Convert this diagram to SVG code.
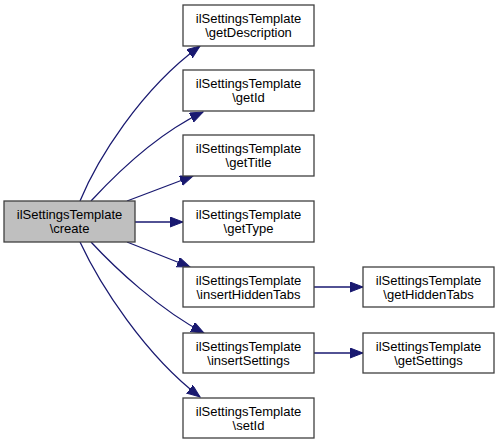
<svg xmlns="http://www.w3.org/2000/svg" width="499" height="444" viewBox="0 0 499 444">
<style>
.n rect{fill:#ffffff;stroke:#404040;stroke-width:1.3}
.n.cur rect{fill:#bfbfbf}
.n text{font-family:"Liberation Sans",Arial,Helvetica,sans-serif;font-size:13px;text-anchor:middle;fill:#000}
.e path{fill:none;stroke:#191970;stroke-width:1.3;marker-end:url(#ah)}
</style>
<defs>
<marker id="ah" markerUnits="userSpaceOnUse" markerWidth="14" markerHeight="11" refX="13" refY="5" orient="auto" viewBox="0 0 14 11">
<path d="M0,0 L13,5 L0,10 z" fill="#191970" stroke="#191970" stroke-width="1"/>
</marker>
</defs>
<rect width="499" height="444" fill="#ffffff"/>
<g id="edges" class="e">
<path d="M80,201 C97,160 140,90 200,46"/>
<path d="M91,201 C115,175 155,135 203,112"/>
<path d="M127,201 L193,176"/>
<path d="M135,222 L183,222"/>
<path d="M127,242 L190,267"/>
<path d="M91,242 C115,268 160,310 204,333"/>
<path d="M80,242 C100,285 145,355 200,397"/>
<path d="M314,287 L363,287"/>
<path d="M314,353 L363,353"/>
</g>
<g id="create" class="n cur"><rect x="4" y="201" width="131" height="41"/><text x="69.5" y="218.5">ilSettingsTemplate</text><text x="69.5" y="232.5">\create</text></g>
<g id="getDescription" class="n"><rect x="183" y="5" width="131" height="41"/><text x="248.5" y="22.5">ilSettingsTemplate</text><text x="248.5" y="36.5">\getDescription</text></g>
<g id="getId" class="n"><rect x="183" y="70" width="131" height="41"/><text x="248.5" y="87.5">ilSettingsTemplate</text><text x="248.5" y="101.5">\getId</text></g>
<g id="getTitle" class="n"><rect x="183" y="135" width="131" height="41"/><text x="248.5" y="152.5">ilSettingsTemplate</text><text x="248.5" y="166.5">\getTitle</text></g>
<g id="getType" class="n"><rect x="183" y="201" width="131" height="41"/><text x="248.5" y="218.5">ilSettingsTemplate</text><text x="248.5" y="232.5">\getType</text></g>
<g id="insertHiddenTabs" class="n"><rect x="183" y="267" width="131" height="40"/><text x="248.5" y="284.5">ilSettingsTemplate</text><text x="248.5" y="298.5">\insertHiddenTabs</text></g>
<g id="insertSettings" class="n"><rect x="183" y="333" width="131" height="40"/><text x="248.5" y="350.5">ilSettingsTemplate</text><text x="248.5" y="364.5">\insertSettings</text></g>
<g id="setId" class="n"><rect x="183" y="398" width="131" height="40"/><text x="248.5" y="415.5">ilSettingsTemplate</text><text x="248.5" y="429.5">\setId</text></g>
<g id="getHiddenTabs" class="n"><rect x="363" y="267" width="131" height="40"/><text x="428.5" y="284.5">ilSettingsTemplate</text><text x="428.5" y="298.5">\getHiddenTabs</text></g>
<g id="getSettings" class="n"><rect x="363" y="333" width="131" height="40"/><text x="428.5" y="350.5">ilSettingsTemplate</text><text x="428.5" y="364.5">\getSettings</text></g>
</svg>
